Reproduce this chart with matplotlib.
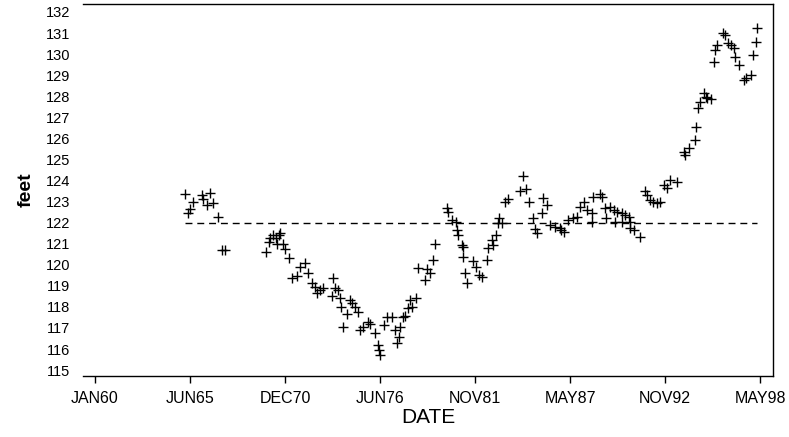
import matplotlib
matplotlib.use("Agg")
import matplotlib.pyplot as plt
import numpy as np

# Observation dates (decimal years) and water level (feet)
years = [
    1965.19, 1965.34, 1965.48, 1965.67, 1966.15, 1966.21, 1966.44, 1966.63, 1966.82, 1967.11,
    1967.30, 1967.49,
    1969.86, 1970.03, 1970.09, 1970.28, 1970.43, 1970.62, 1970.66, 1970.47, 1970.85, 1970.95,
    1971.20, 1971.34, 1971.63, 1971.82, 1972.10, 1972.29, 1972.49, 1972.68, 1972.78, 1972.97,
    1973.16, 1973.64, 1973.74, 1973.83, 1974.02, 1974.12, 1974.16, 1974.31, 1974.51, 1974.70,
    1974.80, 1974.99, 1975.18, 1975.27, 1975.47, 1975.75, 1975.85, 1976.14, 1976.33, 1976.36,
    1976.43, 1976.66, 1976.81, 1977.10, 1977.29, 1977.39, 1977.54, 1977.58, 1977.77, 1977.87,
    1978.06, 1978.25, 1978.16, 1978.50, 1978.64, 1979.12, 1979.02, 1979.31, 1979.50, 1979.60,
    1980.27, 1980.36, 1980.56, 1980.81, 1980.84, 1980.94, 1981.14, 1981.23, 1981.19, 1981.33,
    1981.46, 1981.77, 1981.96, 1982.15, 1982.29, 1982.58, 1982.67, 1982.87, 1982.96, 1983.11,
    1983.25, 1983.30, 1983.44, 1983.63, 1983.82, 1984.50, 1984.69, 1984.84, 1985.03, 1985.26,
    1985.36, 1985.49, 1985.75, 1985.84, 1986.07, 1986.23, 1986.51, 1986.80, 1986.84, 1987.03,
    1987.28, 1987.57, 1987.77, 1987.92, 1988.15, 1988.34, 1988.63, 1988.66, 1988.72, 1989.07,
    1989.21, 1989.40, 1989.43, 1989.69, 1989.88, 1989.97, 1990.07, 1990.36, 1990.39, 1990.55,
    1990.74, 1990.80, 1990.84, 1991.03, 1991.41,
    1991.70, 1991.80, 1991.95, 1992.15, 1992.38, 1992.57, 1992.76, 1992.95, 1993.14, 1993.56,
    1993.91, 1994.01, 1994.20, 1994.58, 1994.64, 1994.72, 1994.85, 1995.08, 1995.18, 1995.28,
    1995.51, 1995.66, 1995.70, 1995.85, 1996.20, 1996.27, 1996.46, 1996.62, 1996.81, 1996.85,
    1997.10, 1997.38, 1997.48, 1997.77, 1997.92, 1998.11, 1998.15,
]
feet = [
    123.38, 122.44, 122.63, 122.99, 123.31, 123.11, 122.84, 123.42, 122.92, 122.28,
    120.70, 120.70,
    120.62, 121.09, 121.25, 121.41, 121.27, 121.41, 121.49, 120.98, 120.98, 120.73,
    120.30, 119.36, 119.46, 119.91, 120.07, 119.59, 119.12, 118.96, 118.64, 118.80,
    118.88, 118.51, 119.36, 118.88, 118.80, 118.41, 118.01, 117.06, 117.66, 118.32,
    118.17, 118.01, 117.77, 116.90, 117.06, 117.29, 117.19, 116.74, 116.19, 115.95,
    115.71, 117.14, 117.53, 117.53, 116.90, 116.27, 116.58, 117.06, 117.53, 117.56,
    117.93, 118.01, 118.32, 118.40, 119.83, 119.78, 119.27, 119.59, 120.22, 120.98,
    122.68, 122.52, 122.12, 122.04, 121.65, 121.41, 120.94, 120.83, 120.35, 119.59,
    119.12, 120.19, 119.91, 119.51, 119.43, 120.22, 120.78, 121.17, 120.94, 121.41,
    122.00, 122.20, 121.97, 122.99, 123.12, 123.51, 124.21, 123.60, 122.96, 122.20,
    121.68, 121.49, 122.44, 123.15, 122.84, 121.89, 121.81, 121.73, 121.65, 121.54,
    122.12, 122.20, 122.28, 122.75, 122.99, 122.60, 122.44, 122.04, 123.23, 123.36,
    123.23, 122.68, 122.20, 122.73, 122.60, 122.04, 122.52, 122.47, 122.04, 122.36,
    122.28, 122.04, 121.73, 121.65, 121.30,
    123.51, 123.31, 123.07, 122.99, 122.94, 122.99, 123.79, 123.63, 124.02, 123.94,
    125.37, 125.21, 125.53, 125.92, 126.55, 127.43, 127.74, 128.14, 127.98, 127.90,
    127.85, 129.64, 130.20, 130.43, 130.99, 130.91, 130.51, 130.43, 130.28, 129.88,
    129.48, 128.77, 128.85, 129.01, 129.96, 130.59, 131.23,
]
reference_level = 122.0

tick_days = [0, 2000, 4000, 6000, 8000, 10000, 12000, 14000]
tick_labels = ["JAN60", "JUN65", "DEC70", "JUN76", "NOV81", "MAY87", "NOV92", "MAY98"]
y_ticks = list(range(115, 133))

days = (np.array(years) - 1960.0) * 365.25

plt.rcParams['font.family'] = ['Liberation Sans', 'DejaVu Sans']
fig = plt.figure(figsize=(7.89, 4.37), dpi=100)
ax = fig.add_axes([0.105, 0.1396, 0.875, 0.8513])

ax.plot(days, feet, linestyle='none', marker='+', markersize=6.5,
        markeredgewidth=1.0, color='black')
ax.plot([days.min(), days.max()], [reference_level, reference_level],
        color='black', linewidth=1.0, linestyle=(0, (5, 3.5)))

ax.set_xlim(-253, 14272)
ax.set_ylim(114.72, 132.38)
ax.set_xticks(tick_days)
ax.set_xticklabels(tick_labels, fontsize=11.5)
ax.set_yticks(y_ticks)
ax.set_yticklabels([str(v) for v in y_ticks], fontsize=10.5)
ax.tick_params(axis='y', length=0, pad=9)
ax.tick_params(axis='x', length=5, width=1, direction='out', pad=6)
ax.spines['left'].set_visible(False)
for s in ['top', 'right', 'bottom']:
    ax.spines[s].set_linewidth(1.0)

ax.set_xlabel("DATE", fontsize=15, labelpad=1)
ax.set_ylabel("feet", fontsize=14, fontweight='bold', labelpad=8)

fig.savefig("out.png", dpi=100)
